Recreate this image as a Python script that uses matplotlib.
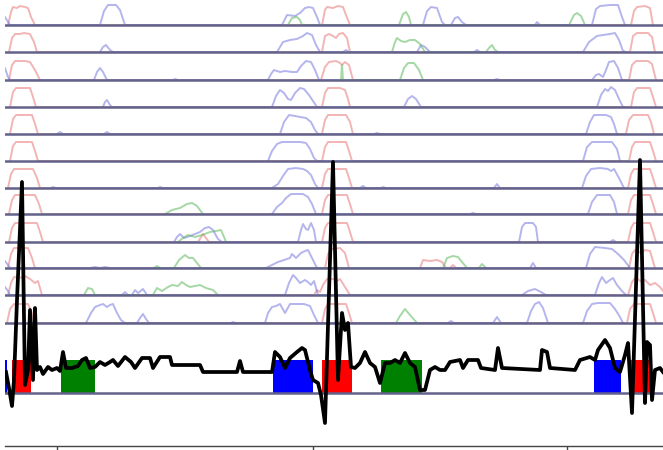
import matplotlib
matplotlib.use('Agg')
import matplotlib.pyplot as plt
import numpy as np

# ---------------- data (x in time units, h = trace height above its row baseline) ----------------
r01_red = [(8,0),(11,13),(13,18),(17,17),(20,19),(25,18),(28,17),(31,8),(35,0),(322,0),(325,15),(327,18),(333,17),(338,19),(343,18),(346,10),(350,0),(631,0),(634,14),(637,18),(645,19),(650,17),(653,0)]
r01_blue = [(5,8),(10,0),(100,0),(104,14),(108,20),(116,20),(120,15),(125,0),(282,0),(287,10),(295,9),(300,12),(305,17),(309,18),(313,17),(317,8),(320,0),(423,0),(427,14),(431,18),(437,17),(442,3),(445,0),(451,0),(455,7),(458,8),(462,3),(466,0),(535,0),(537,3),(540,0),(592,0),(596,16),(600,19),(610,20),(618,20),(622,8),(625,0)]
r01_green = [(288,0),(292,7),(297,8),(300,5),(302,0),(399,0),(403,11),(406,13),(409,8),(411,0),(569,0),(574,10),(577,12),(581,9),(585,0)]

r02_red = [(9,0),(12,14),(15,18),(20,18),(24,19),(30,18),(34,10),(37,0),(322,0),(325,16),(329,18),(333,16),(336,14),(339,18),(343,19),(347,14),(350,0),(630,0),(633,16),(637,19),(648,19),(652,15),(655,0)]
r02_blue = [(100,0),(103,5),(106,7),(110,2),(113,0),(277,0),(283,10),(290,12),(297,13),(303,16),(307,19),(312,17),(316,7),(320,0),(343,0),(346,2),(349,0),(417,0),(421,7),(425,5),(430,0),(474,0),(477,2),(480,0),(583,0),(589,10),(597,16),(603,17),(610,18),(615,19),(619,12),(623,1),(626,0)]
r02_green = [(392,0),(395,10),(397,14),(401,11),(405,10),(410,12),(415,12),(420,8),(425,0),(486,0),(489,4),(492,7),(495,2),(498,0)]

r03_red = [(9,0),(12,15),(15,19),(25,19),(30,18),(35,10),(40,0),(321,0),(325,13),(329,18),(336,19),(340,17),(342,15),(345,18),(349,15),(353,0),(629,0),(632,15),(636,19),(648,19),(652,16),(656,0)]
r03_blue = [(5,12),(8,3),(10,0),(94,0),(97,8),(100,12),(103,8),(107,0),(173,0),(175,1),(178,0),(268,0),(271,6),(274,10),(280,8),(285,9),(292,8),(297,8),(301,14),(306,19),(311,18),(315,10),(319,0),(494,0),(497,1),(500,0),(592,0),(596,5),(599,6),(603,3),(606,10),(609,18),(614,19),(618,12),(622,0)]
r03_green = [(341,0),(342,15),(343,0),(400,0),(404,12),(408,17),(414,17),(419,10),(423,0)]

r04_red = [(10,0),(13,15),(16,19),(30,19),(33,10),(36,0),(322,0),(325,14),(328,19),(340,19),(345,17),(348,8),(350,0),(631,0),(634,15),(637,19),(650,19),(653,10),(656,0)]
r04_blue = [(103,0),(105,5),(107,7),(110,2),(112,0),(272,0),(276,11),(280,17),(284,14),(288,8),(291,7),(295,14),(300,19),(304,18),(309,12),(313,6),(317,0),(404,0),(408,8),(412,11),(416,8),(421,0),(597,0),(601,12),(605,18),(608,16),(611,20),(615,17),(619,8),(623,0)]
r04_green = []

r05_red = [(10,0),(13,15),(16,19),(32,19),(35,10),(38,0),(322,0),(325,14),(328,19),(346,19),(350,12),(353,0),(626,0),(629,14),(633,19),(648,19),(651,12),(654,0)]
r05_blue = [(57,0),(60,2),(63,0),(104,0),(107,2),(110,0),(280,0),(284,12),(289,19),(295,18),(300,17),(306,16),(311,12),(315,4),(318,0),(374,0),(377,1),(380,0),(586,0),(590,12),(594,19),(606,19),(611,17),(614,10),(617,0)]
r05_green = []

r06_red = [(10,0),(13,15),(16,19),(32,19),(35,10),(38,0),(322,0),(325,14),(328,19),(346,19),(349,10),(352,0),(629,0),(632,14),(635,19),(650,19),(653,10),(656,0)]
r06_blue = [(268,0),(272,10),(277,17),(282,19),(300,19),(306,18),(310,12),(314,3),(317,0),(583,0),(587,14),(592,19),(612,19),(617,12),(620,0)]
r06_green = []

r07_red = [(8,0),(11,14),(14,19),(33,19),(37,10),(40,0),(322,0),(325,14),(328,19),(346,19),(349,10),(352,0),(628,0),(631,14),(634,19),(650,19),(653,10),(656,0)]
r07_blue = [(51,0),(53,1),(56,0),(158,0),(160,1),(163,0),(272,0),(278,4),(283,12),(288,19),(296,20),(303,19),(307,17),(311,13),(315,4),(318,0),(360,0),(363,2),(366,0),(381,0),(383,1),(386,0),(494,0),(497,4),(500,0),(582,0),(586,12),(591,19),(600,20),(608,19),(611,17),(614,19),(619,10),(624,0)]
r07_green = []

r08_red = [(9,0),(12,14),(15,19),(35,19),(39,10),(42,0),(322,0),(325,14),(328,19),(347,19),(350,10),(353,0),(628,0),(631,14),(634,19),(650,19),(653,10),(656,0)]
r08_blue = [(272,0),(277,7),(282,11),(286,16),(291,20),(303,20),(308,17),(312,10),(316,0),(470,0),(473,1),(476,0),(588,0),(592,12),(597,19),(610,19),(614,12),(617,0)]
r08_green = [(165,0),(172,4),(180,6),(187,10),(192,11),(197,8),(203,0)]

r09_red = [(9,0),(12,14),(15,19),(37,19),(40,10),(43,0),(198,0),(203,8),(206,4),(209,0),(322,0),(325,14),(328,19),(347,19),(350,10),(353,0),(628,0),(631,14),(634,19),(650,19),(653,10),(656,0)]
r09_blue = [(174,0),(177,5),(180,8),(184,4),(190,6),(195,8),(200,10),(205,14),(209,15),(213,12),(218,3),(222,0),(298,0),(301,12),(303,18),(306,13),(308,12),(311,19),(314,12),(316,0),(519,0),(522,15),(525,19),(533,19),(536,15),(538,0),(610,0),(613,2),(616,0)]
r09_green = [(178,0),(183,4),(188,7),(195,5),(202,7),(210,10),(216,11),(221,12),(224,5),(226,0)]

r10_red = [(8,0),(11,14),(14,20),(28,20),(32,10),(35,0),(325,0),(328,14),(332,19),(340,20),(345,15),(349,0),(420,0),(423,8),(430,7),(437,8),(442,6),(446,0),(450,0),(453,3),(456,0),(629,0),(632,14),(635,18),(641,15),(645,18),(650,17),(655,0)]
r10_blue = [(5,7),(8,3),(10,0),(90,0),(95,1),(100,0),(105,1),(110,0),(266,0),(272,3),(278,6),(284,8),(290,10),(292,14),(296,10),(301,15),(305,17),(308,18),(311,12),(314,6),(317,0),(530,0),(533,5),(536,0),(586,0),(590,14),(595,21),(605,20),(612,19),(618,14),(624,8),(630,0)]
r10_green = [(154,0),(157,2),(160,0),(174,0),(179,8),(185,13),(189,10),(193,10),(197,5),(201,0),(443,0),(447,10),(453,12),(458,11),(462,6),(467,0),(479,0),(482,4),(486,0)]

r11_red = [(8,0),(11,12),(14,18),(20,17),(25,19),(30,16),(35,12),(38,14),(42,0),(314,0),(317,5),(320,3),(323,10),(327,16),(333,16),(337,14),(340,16),(345,8),(350,0),(628,0),(632,13),(636,18),(640,14),(645,15),(650,10),(655,12),(660,8),(663,4)]
r11_blue = [(5,8),(8,4),(10,0),(122,0),(125,3),(128,0),(132,0),(135,5),(138,2),(143,6),(147,0),(285,0),(289,12),(293,20),(296,17),(300,12),(305,15),(308,13),(311,10),(314,14),(318,0),(522,0),(528,4),(535,6),(541,3),(546,0),(595,0),(599,12),(602,18),(606,12),(610,15),(613,17),(617,10),(622,4),(626,0)]
r11_green = [(84,0),(88,7),(92,6),(95,0),(153,0),(157,7),(162,4),(168,8),(172,10),(178,9),(182,13),(186,10),(190,8),(195,9),(200,10),(206,7),(213,5),(218,0)]

r12_red = [(7,0),(10,14),(14,19),(28,19),(32,10),(35,0),(322,0),(325,14),(328,19),(346,19),(349,10),(352,0),(627,0),(630,14),(634,19),(650,19),(653,10),(656,0)]
r12_blue = [(86,0),(91,10),(95,16),(100,18),(103,19),(107,16),(110,18),(113,19),(117,10),(121,3),(125,0),(137,0),(140,5),(143,9),(146,4),(149,0),(231,0),(233,1),(236,0),(265,0),(268,10),(272,16),(276,17),(280,19),(285,10),(290,19),(296,19),(304,19),(310,17),(314,8),(318,0),(448,0),(451,2),(454,0),(493,0),(497,6),(501,0),(527,0),(531,12),(535,19),(539,21),(543,15),(548,0),(583,0),(587,12),(592,19),(598,20),(610,20),(615,14),(620,6),(623,0)]
r12_green = [(396,0),(400,7),(405,14),(410,8),(417,0)]

# black signal: (time, amplitude above lower baseline)
signal = [(6,21),(9,5),(12,-13),(14,13),(17,93),(22,211),(25,8),(28,23),(30,83),(33,13),(35,85),(37,23),(40,26),(43,19),(48,26),(52,23),(57,25),(60,22),(63,41),(66,25),(72,25),(78,27),(82,33),(86,35),(90,25),(95,26),(100,31),(105,28),(110,31),(113,33),(118,27),(125,36),(131,31),(135,25),(142,35),(150,35),(153,25),(160,36),(170,36),(172,28),(200,28),(203,21),(237,21),(240,32),(243,21),(272,21),(275,41),(280,36),(285,25),(290,35),(297,41),(302,45),(305,43),(310,23),(313,13),(318,10),(321,-2),(325,-30),(333,231),(338,13),(342,80),(345,63),(348,70),(351,26),(355,25),(360,30),(365,41),(370,30),(375,26),(380,10),(385,30),(390,30),(395,33),(400,30),(405,40),(410,30),(415,26),(420,3),(425,3),(430,23),(435,26),(440,23),(445,23),(450,31),(460,33),(463,25),(468,33),(478,33),(481,25),(495,23),(498,45),(502,25),(540,23),(542,43),(547,41),(550,25),(575,23),(580,33),(590,36),(595,33),(598,43),(605,53),(610,45),(615,25),(620,21),(625,38),(628,50),(632,-20),(640,233),(645,-10),(647,51),(650,48),(652,-7),(655,23),(660,25),(663,21)]

# phase segments under the signal
seg_start = [0, 12, 61, 273, 322, 381, 594, 629]
seg_end = [7, 31, 95, 313, 352, 422, 621, 651]
seg_color = ['#0000ff', '#ff0000', '#008000', '#0000ff', '#ff0000', '#008000', '#0000ff', '#ff0000']
seg_height = 33

tick_pos = [57, 313, 567]

# ---------------- layout ----------------
W, H = 663, 450
fig = plt.figure(figsize=(W / 100, H / 100), dpi=100)
ax = fig.add_axes([5 / W, 4 / H, (W - 5) / W, (H - 4) / H])
ax.set_xlim(5, 663)
ax.set_ylim(4, 450)

row_baselines = [425, 398, 370, 343, 316, 289, 262, 236, 208, 182, 155, 127]
signal_base = 57

rows = [
    (r01_red, r01_blue, r01_green), (r02_red, r02_blue, r02_green),
    (r03_red, r03_blue, r03_green), (r04_red, r04_blue, r04_green),
    (r05_red, r05_blue, r05_green), (r06_red, r06_blue, r06_green),
    (r07_red, r07_blue, r07_green), (r08_red, r08_blue, r08_green),
    (r09_red, r09_blue, r09_green), (r10_red, r10_blue, r10_green),
    (r11_red, r11_blue, r11_green), (r12_red, r12_blue, r12_green),
]
trace_colors = ['#e87878', '#7878e0', '#5cb85c']
base_color = '#62628a'

for base, traces in zip(row_baselines, rows):
    for pts, col in zip(traces, trace_colors):
        if not pts:
            continue
        xs = [p[0] for p in pts]
        hs = [base + p[1] for p in pts]
        ax.plot(xs, hs, color=col, lw=1.4, alpha=0.55, zorder=2,
                solid_joinstyle='round', solid_capstyle='round')
    ax.axhline(base, color=base_color, lw=1.8, zorder=3)

# segments
for s, e, c in zip(seg_start, seg_end, seg_color):
    ax.bar(s, seg_height, width=e - s, bottom=signal_base, align='edge', color=c, lw=0, zorder=4)
ax.axhline(signal_base, color=base_color, lw=1.8, zorder=5)

sx = [p[0] for p in signal]
sy = [signal_base + p[1] for p in signal]
ax.plot(sx, sy, color='black', lw=2.7, zorder=6, solid_joinstyle='round')

for side in ['top', 'left', 'right']:
    ax.spines[side].set_visible(False)
ax.spines['bottom'].set_color('#444444')
ax.spines['bottom'].set_linewidth(1.0)
ax.set_xticks(tick_pos)
ax.set_xticklabels([''] * len(tick_pos))
ax.tick_params(axis='x', direction='out', length=5, color='#444444', width=1)
ax.set_yticks([])

fig.savefig('out.png', dpi=100)
